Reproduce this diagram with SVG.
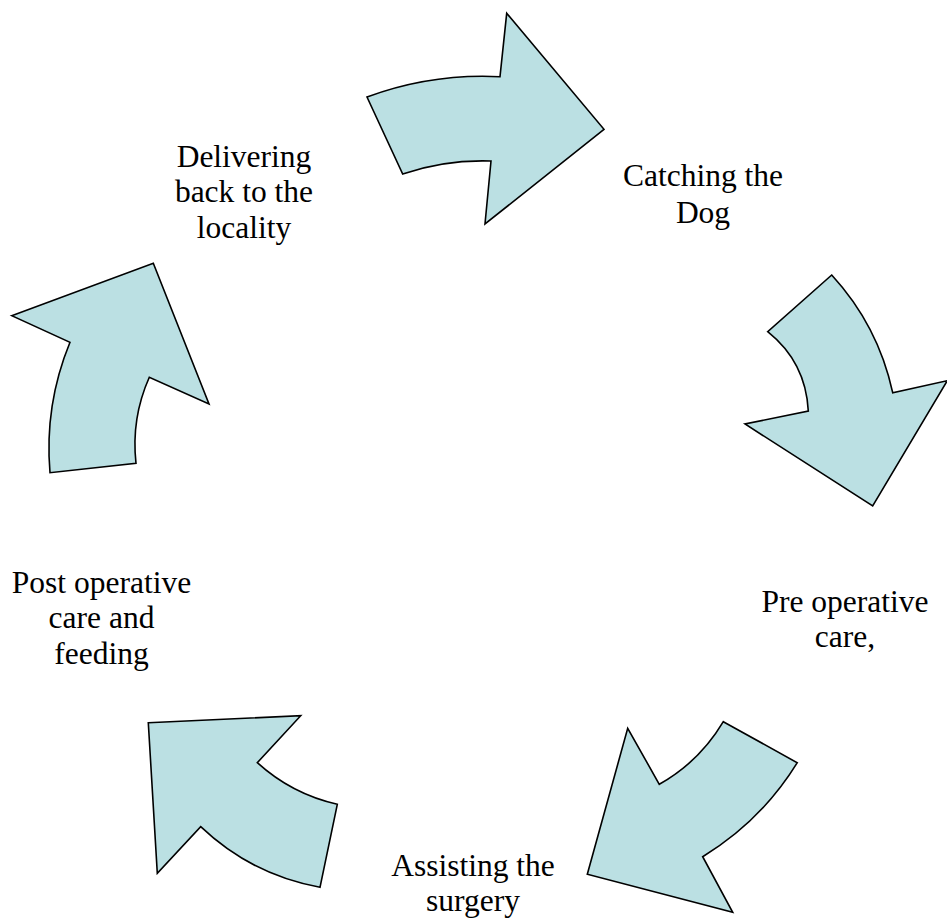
<svg xmlns="http://www.w3.org/2000/svg" width="947" height="918" viewBox="0 0 947 918">
<style>
.arrow{fill:#BBE0E3;stroke:#000;stroke-width:1.6;stroke-linejoin:miter}
.lbl{font-family:"Liberation Serif","Times New Roman",serif;font-size:31.5px;fill:#000;text-anchor:middle}
</style>
<rect width="947" height="918" fill="#fff"/>
<g id="connectors">
<path class="arrow" d="M367,97 Q431.4,73.2 500,76.7 L506.7,13.3 L604,129.3 L485,224 L491,161 Q445,159.5 402.7,174 Z"/>
<path class="arrow" d="M831.7,275 L767.7,331.7 Q805.8,362.2 808.3,411 L745,424 L872.7,506 L947.3,380.7 L892.7,392.7 Q878.2,325.6 831.7,275 Z"/>
<path class="arrow" d="M723.3,721.7 L797.3,762.7 Q761.3,821 702.7,856.7 L732.7,912.3 L587.3,874.3 L627.7,728.3 L659.3,784.3 Q699.7,761.5 723.3,721.7 Z"/>
<path class="arrow" d="M148.3,722.7 L300.7,715.7 L257.3,762.7 Q291.8,794.1 337.3,804.3 L320,887.3 Q251.3,874.8 200.7,826.7 L157.3,873.3 Z"/>
<path class="arrow" d="M11.7,315.7 L153.3,263.3 L209,404 L149.3,377.3 Q131,418.5 136,463.3 L50,472.7 Q44.2,405.1 70,342.3 Z"/>
</g>
<g id="node-catching">
<text class="lbl" x="703" y="185.5">Catching the</text>
<text class="lbl" x="703" y="222.5">Dog</text>
</g>
<g id="node-preop">
<text class="lbl" x="845" y="611.5">Pre operative</text>
<text class="lbl" x="845" y="646.5">care,</text>
</g>
<g id="node-surgery">
<text class="lbl" x="473" y="876">Assisting the</text>
<text class="lbl" x="473" y="910.5">surgery</text>
</g>
<g id="node-postop">
<text class="lbl" x="101.5" y="592.5">Post operative</text>
<text class="lbl" x="101.5" y="628">care and</text>
<text class="lbl" x="101.5" y="663.5">feeding</text>
</g>
<g id="node-delivering">
<text class="lbl" x="244" y="166.5">Delivering</text>
<text class="lbl" x="244" y="202">back to the</text>
<text class="lbl" x="244" y="237.5">locality</text>
</g>
</svg>
